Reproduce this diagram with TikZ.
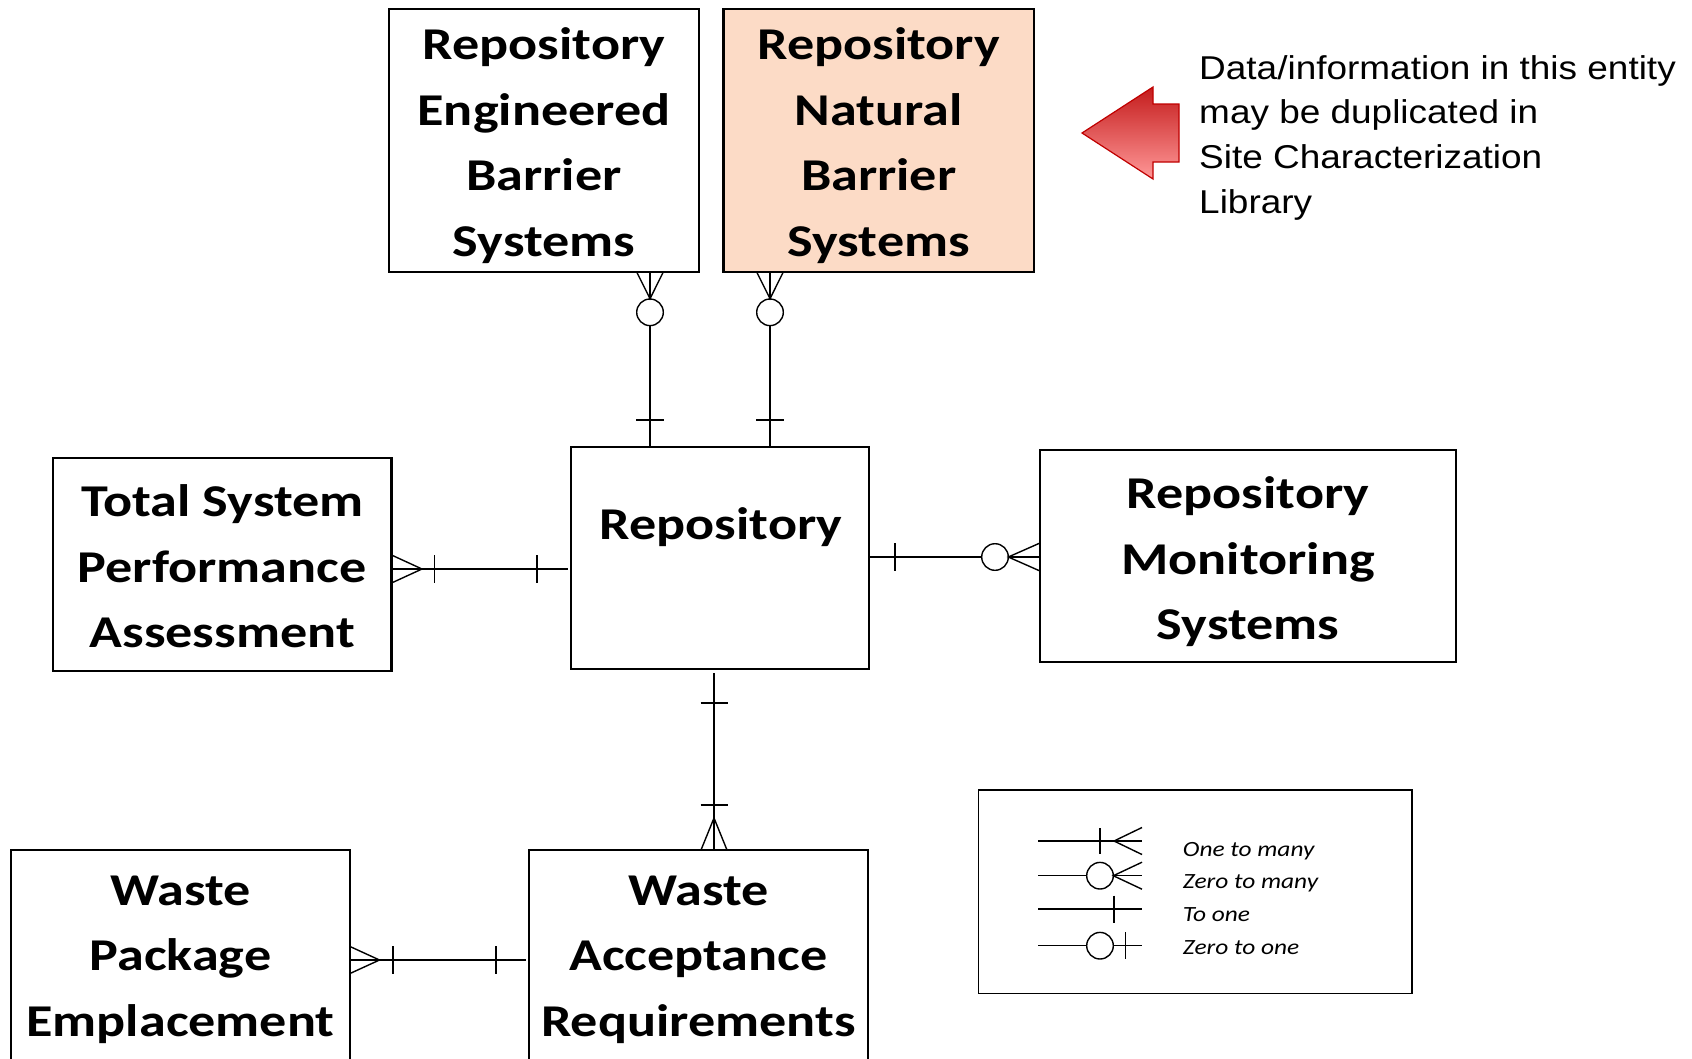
\documentclass[tikz,border=0pt]{standalone}
\usepackage{fontspec}
\setmainfont{Liberation Sans}
\newfontfamily\boxfont[FakeStretch=1.19]{Carlito}
\newfontfamily\legfont[FakeStretch=1.17]{Carlito}
\newfontfamily\notefont[FakeStretch=1.12]{Liberation Sans}
\usetikzlibrary{calc}
\definecolor{peach}{RGB}{252,219,198}
\definecolor{arrowdark}{RGB}{192,0,0}
\definecolor{arrowtop}{RGB}{196,28,28}
\definecolor{arrowbot}{RGB}{255,152,152}
\tikzset{
  ent/.style={draw=black, line width=2.2pt, rectangle, inner sep=0pt, outer sep=0pt},
  etext/.style={inner sep=0pt, outer sep=0pt, anchor=base,
    font={\boxfont\bfseries\fontsize{45.5}{65.7}\selectfont}},
  conn/.style={line width=1.4pt, black},
  legbox/.style={draw=black, line width=1.6pt, rectangle, inner sep=0pt, outer sep=0pt},
  legtext/.style={inner sep=0pt, anchor=base west,
    font={\legfont\itshape\fontsize{21.7}{32.8}\selectfont}},
  notetext/.style={inner sep=0pt, anchor=base west,
    font={\notefont\fontsize{33}{44.6}\selectfont}},
}
\newcommand{\etxt}[1]{\parbox[t]{420pt}{\centering #1}}
\begin{document}
\begin{tikzpicture}[x=1pt,y=-1pt]
\useasboundingbox (0,0) rectangle (1692,1058);
\fill[white] (0,0) rectangle (1692,1058);

% entity boxes
\node[ent, minimum width=310pt, minimum height=263.4pt] (rebs) at (544,140.3) {};
\node[ent, fill=peach, minimum width=310.5pt, minimum height=263.4pt] (rnbs) at (878.75,140.3) {};
\node[ent, minimum width=298pt, minimum height=222pt] (repo) at (720,558) {};
\node[ent, minimum width=338.5pt, minimum height=213pt] (tspa) at (222.25,564.5) {};
\node[ent, minimum width=416pt, minimum height=212pt] (rms) at (1248,556) {};
\node[ent, minimum width=339pt, minimum height=260pt] (wpe) at (180.5,980) {};
\node[ent, minimum width=339pt, minimum height=260pt] (war) at (698.5,980) {};

% entity texts
\node[etext] (rebs-t) at (544,59.3) {\etxt{Repository\\Engineered\\Barrier\\Systems}};
\node[etext] (rnbs-t) at (878.75,59.3) {\etxt{Repository\\Natural\\Barrier\\Systems}};
\node[etext] (repo-t) at (721,539.3) {\etxt{Repository}};
\node[etext] (tspa-t) at (222.25,516.4) {\etxt{Total System\\Performance\\Assessment}};
\node[etext] (rms-t) at (1248,508.5) {\etxt{Repository\\Monitoring\\Systems}};
\node[etext] (wpe-t) at (180.5,905) {\etxt{Waste\\Package\\Emplacement}};
\node[etext] (war-t) at (698.5,905) {\etxt{Waste\\Acceptance\\Requirements}};

% helper coordinates for connector positions
\coordinate (cx1) at (650,0);
\coordinate (cx2) at (770,0);
\coordinate (cx3) at (714,0);
\coordinate (cy1) at (0,569);
\coordinate (cy2) at (0,557);
\coordinate (cy3) at (0,960);

% REBS -- Repository (zero to many / one)
\draw[conn] (rebs.south -| cx1) -- ++(0,26.7);
\draw[conn] (rebs.south -| cx1) ++(-13.3,0) -- ++(13.3,26.7) -- ++(13.3,-26.7);
\draw[conn] (rebs.south -| cx1) ++(0,40.3) circle[radius=13.3];
\draw[conn] ($(rebs.south -| cx1)+(0,53.6)$) -- (repo.north -| cx1);
\draw[conn] (repo.north -| cx1) ++(-14,-27) -- ++(28,0);

% RNBS -- Repository
\draw[conn] (rnbs.south -| cx2) -- ++(0,26.7);
\draw[conn] (rnbs.south -| cx2) ++(-13.3,0) -- ++(13.3,26.7) -- ++(13.3,-26.7);
\draw[conn] (rnbs.south -| cx2) ++(0,40.3) circle[radius=13.3];
\draw[conn] ($(rnbs.south -| cx2)+(0,53.6)$) -- (repo.north -| cx2);
\draw[conn] (repo.north -| cx2) ++(-14,-27) -- ++(28,0);

% TSPA -- Repository
\draw[conn] (tspa.east |- cy1) -- ($(repo.west |- cy1)+(-3,0)$);
\draw[conn] (tspa.east |- cy1) ++(0,-14) -- ++(30.5,14) -- ++(-30.5,14);
\draw[conn] (tspa.east |- cy1) ++(43,-14) -- ++(0,28);
\draw[conn] (repo.west |- cy1) ++(-34,-14) -- ++(0,28);

% Repository -- RMS
\draw[conn] (repo.east |- cy2) -- ($(rms.west |- cy2)+(-58.3,0)$);
\draw[conn] (repo.east |- cy2) ++(26,-14) -- ++(0,28);
\draw[conn] (rms.west |- cy2) ++(-45,0) circle[radius=13.3];
\draw[conn] (rms.west |- cy2) -- ++(-31.7,0);
\draw[conn] (rms.west |- cy2) ++(0,-14) -- ++(-31.7,14) -- ++(31.7,14);

% Repository -- WAR
\draw[conn] ($(repo.south -| cx3)+(0,4)$) -- (war.north -| cx3);
\draw[conn] (repo.south -| cx3) ++(-13.5,34) -- ++(27,0);
\draw[conn] (war.north -| cx3) ++(-13.5,-45) -- ++(27,0);
\draw[conn] (war.north -| cx3) ++(-13,0) -- ++(13,-32) -- ++(13,32);

% WPE -- WAR
\draw[conn] (wpe.east |- cy3) -- ($(war.west |- cy3)+(-3,0)$);
\draw[conn] (wpe.east |- cy3) ++(0,-13.5) -- ++(29.5,13.5) -- ++(-29.5,13.5);
\draw[conn] (wpe.east |- cy3) ++(43,-14) -- ++(0,28);
\draw[conn] (war.west |- cy3) ++(-33,-14) -- ++(0,28);

% note arrow and text
\shadedraw[top color=arrowtop, bottom color=arrowbot, draw=arrowdark, line width=1.2pt, line join=miter]
  (1082,133) -- (1153,87) -- (1153,104) -- (1179,104) -- (1179,162) -- (1153,162) -- (1153,179) -- cycle;
\node[notetext] (note) at (1199,79.3) {\parbox[t]{560pt}{\raggedright Data/information in this entity\\may be duplicated in\\Site Characterization\\Library}};

% legend
\node[legbox, minimum width=433.4pt, minimum height=203.3pt] (lgd) at (1195,891.7) {};
\coordinate (l1) at (1038,841);
\coordinate (l2) at (1038,875.7);
\coordinate (l3) at (1038,909);
\coordinate (l4) at (1038,945.7);
% one to many
\draw[conn] (l1) -- ++(104,0);
\draw[conn] (l1) ++(62,-13) -- ++(0,26);
\draw[conn] (l1) ++(104,-13.5) -- ++(-28,13.5) -- ++(28,13.5);
% zero to many
\draw[conn] (l2) -- ++(48.7,0);
\draw[conn] (l2) ++(62,0) circle[radius=13.3];
\draw[conn] (l2) ++(75.3,0) -- ++(28.7,0);
\draw[conn] (l2) ++(104,-13.5) -- ++(-28.7,13.5) -- ++(28.7,13.5);
% to one
\draw[conn] (l3) -- ++(104,0);
\draw[conn] (l3) ++(76,-13.5) -- ++(0,27);
% zero to one
\draw[conn] (l4) -- ++(48.7,0);
\draw[conn] (l4) ++(62,0) circle[radius=13.3];
\draw[conn] (l4) ++(75.3,0) -- ++(28.7,0);
\draw[conn] (l4) ++(87.7,-13.5) -- ++(0,27);
\node[legtext] (legt) at (1182.7,856) {\parbox[t]{220pt}{\raggedright One to many\\Zero to many\\To one\\Zero to one}};
\end{tikzpicture}
\end{document}
